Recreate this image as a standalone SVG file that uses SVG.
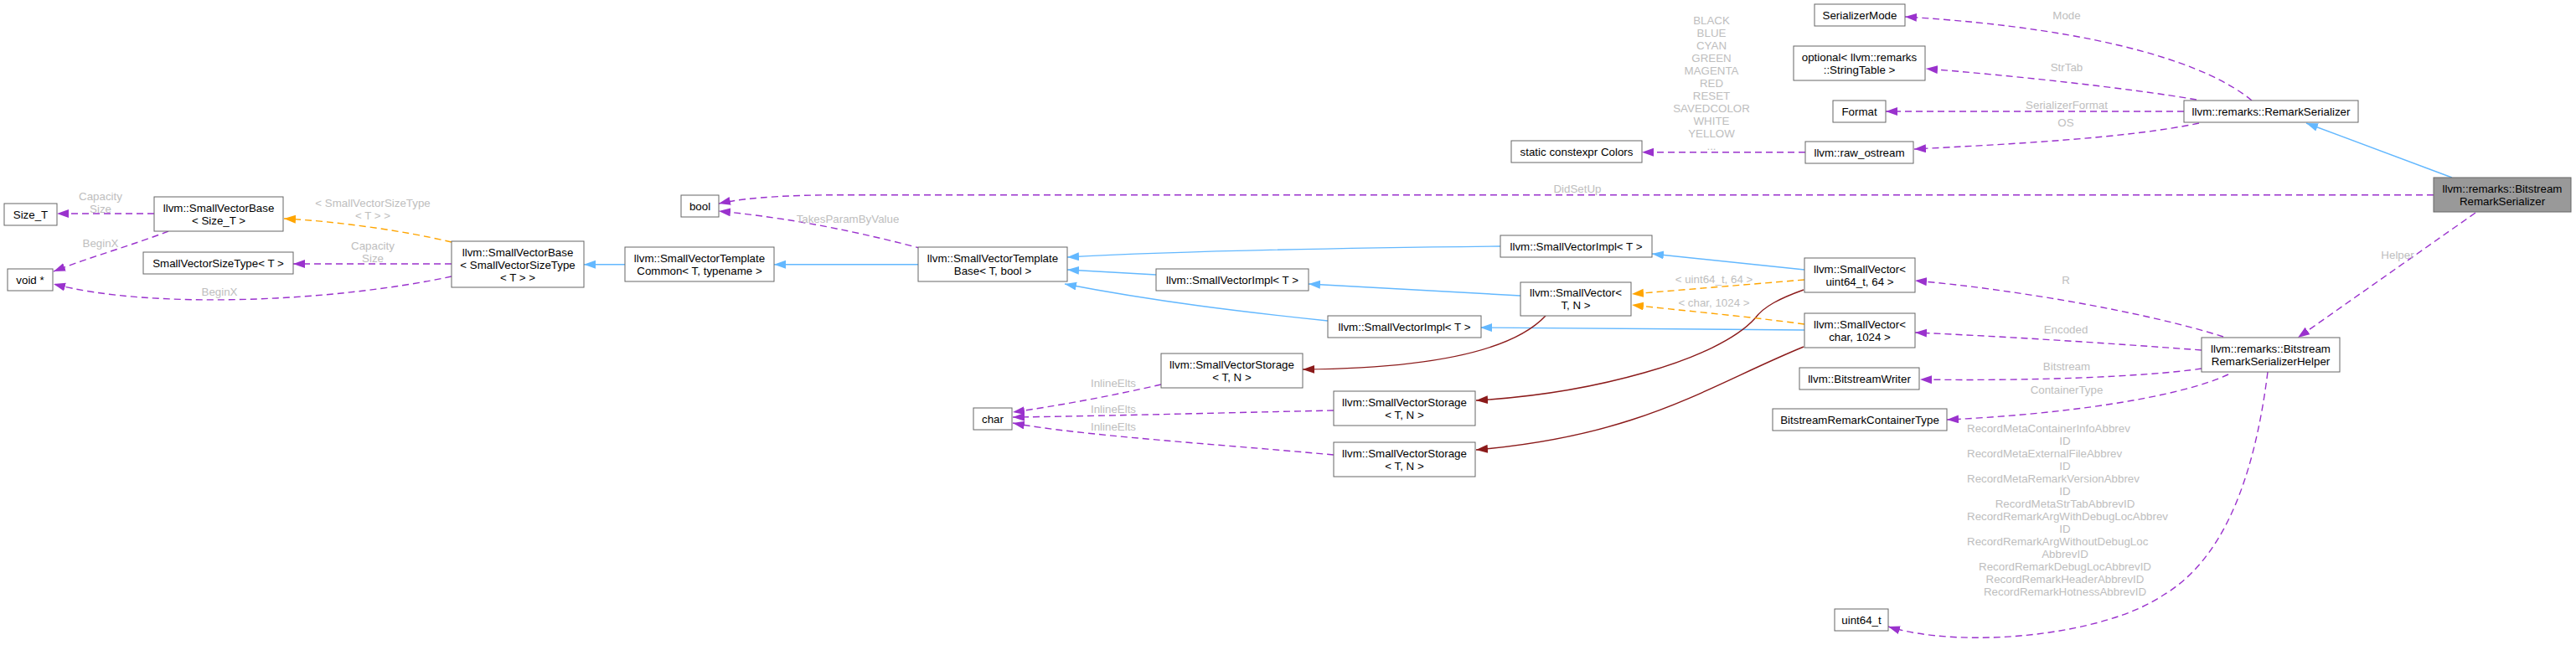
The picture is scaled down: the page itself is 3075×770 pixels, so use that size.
<svg xmlns="http://www.w3.org/2000/svg" width="3075" height="770" viewBox="0 0 3075 770">
<style>
text{font-family:"Liberation Sans",Arial,Helvetica,sans-serif;font-size:13.33px}
.n rect{fill:#fff;stroke:#666;stroke-width:1}
.n.main rect{fill:#999}
.n text{text-anchor:middle;fill:#000}
.lb{fill:#bebebe;text-anchor:middle}
.ls{fill:#bebebe;text-anchor:start}
.p{fill:none;stroke:#9a32cd;stroke-width:1.4;stroke-dasharray:8,5;marker-end:url(#ap)}
.o{fill:none;stroke:#ffa500;stroke-width:1.4;stroke-dasharray:8,5;marker-end:url(#ao)}
.b{fill:none;stroke:#63b8ff;stroke-width:1.4;marker-end:url(#ab)}
.r{fill:none;stroke:#8b1a1a;stroke-width:1.4;marker-end:url(#ar)}
</style>
<defs>
<marker id="ap" markerUnits="userSpaceOnUse" markerWidth="15" markerHeight="11" refX="14" refY="5" orient="auto"><path d="M0,0 L14,5 L0,10 z" fill="#9a32cd"/></marker>
<marker id="ao" markerUnits="userSpaceOnUse" markerWidth="15" markerHeight="11" refX="14" refY="5" orient="auto"><path d="M0,0 L14,5 L0,10 z" fill="#ffa500"/></marker>
<marker id="ab" markerUnits="userSpaceOnUse" markerWidth="15" markerHeight="11" refX="14" refY="5" orient="auto"><path d="M0,0 L14,5 L0,10 z" fill="#63b8ff"/></marker>
<marker id="ar" markerUnits="userSpaceOnUse" markerWidth="15" markerHeight="11" refX="14" refY="5" orient="auto"><path d="M0,0 L14,5 L0,10 z" fill="#8b1a1a"/></marker>
</defs>
<rect width="3075" height="770" fill="#fff"/>
<g id="connectors">
<path class="p" d="M184,255 L68,255"/>
<text class="lb" x="120" y="239">Capacity</text><text class="lb" x="120" y="254">Size</text>
<path class="p" d="M201,276 C160,292 110,306 64,324"/>
<text class="lb" x="120" y="295">BeginX</text>
<path class="p" d="M539,315 L350,315"/>
<text class="lb" x="445" y="298">Capacity</text><text class="lb" x="445" y="313">Size</text>
<path class="p" d="M539,330 C400,360 180,370 64,339"/>
<text class="lb" x="262" y="353">BeginX</text>
<path class="o" d="M539,289 C480,275 400,264 339,261"/>
<text class="lb" x="445" y="247">&lt; SmallVectorSizeType</text><text class="lb" x="445" y="262">&lt; T &gt; &gt;</text>
<path class="b" d="M746,315.7 L697,315.7"/>
<path class="b" d="M1096,315.7 L924,315.7"/>
<path class="p" d="M1101,297 C1000,270 920,258 858,252"/>
<text class="lb" x="1012" y="266">TakesParamByValue</text>
<path class="p" d="M2905,232.7 L1000,232.7 C920,233 880,238 858,243"/>
<text class="lb" x="1883" y="230">DidSetUp</text>
<path class="b" d="M1791,294 C1600,296 1400,300 1274,307"/>
<path class="b" d="M1380,328 L1274,322"/>
<path class="b" d="M1585,383 C1480,372 1380,360 1271,339"/>
<path class="b" d="M1815,353 L1562,339"/>
<path class="b" d="M2154,322 L1972,303"/>
<path class="b" d="M2154,394 L1767,391"/>
<path class="b" d="M2927,212 L2753,147"/>
<path class="r" d="M1845,377 C1800,425 1680,440 1555,441"/>
<path class="r" d="M2153,346 C2125,356 2105,366 2095,380 C2050,430 1900,470 1762,478"/>
<path class="r" d="M2153,414 C2040,460 1960,520 1762,537"/>
<path class="p" d="M1386,459 C1330,472 1260,485 1209,492"/>
<text class="lb" x="1329" y="462">InlineElts</text>
<path class="p" d="M1592,490 C1450,493 1300,497 1209,498"/>
<text class="lb" x="1329" y="493">InlineElts</text>
<path class="p" d="M1592,543 C1450,530 1290,520 1209,505"/>
<text class="lb" x="1329" y="514">InlineElts</text>
<path class="o" d="M2154,334 L1948,351"/>
<text class="lb" x="2046" y="338">&lt; uint64_t, 64 &gt;</text>
<path class="o" d="M2154,387 C2080,377 2000,370 1948,364"/>
<text class="lb" x="2046" y="366">&lt; char, 1024 &gt;</text>
<path class="p" d="M2155,181.7 L1960,181.7"/>
<text class="lb" x="2043" y="29">BLACK</text>
<text class="lb" x="2043" y="44">BLUE</text>
<text class="lb" x="2043" y="59">CYAN</text>
<text class="lb" x="2043" y="74">GREEN</text>
<text class="lb" x="2043" y="89">MAGENTA</text>
<text class="lb" x="2043" y="104">RED</text>
<text class="lb" x="2043" y="119">RESET</text>
<text class="lb" x="2043" y="134">SAVEDCOLOR</text>
<text class="lb" x="2043" y="149">WHITE</text>
<text class="lb" x="2043" y="164">YELLOW</text>
<text class="lb" x="2043" y="179">...</text>
<path class="p" d="M2688,120 C2640,80 2520,35 2274,20"/>
<text class="lb" x="2467" y="23">Mode</text>
<path class="p" d="M2622,119 C2540,105 2400,90 2299,82"/>
<text class="lb" x="2467" y="85">StrTab</text>
<path class="p" d="M2607,133 L2251,133"/>
<text class="lb" x="2467" y="130">SerializerFormat</text>
<path class="p" d="M2625,147 C2540,165 2400,172 2285,178"/>
<text class="lb" x="2466" y="151">OS</text>
<path class="p" d="M2955,254 L2743,403"/>
<text class="lb" x="2862" y="309">Helper</text>
<path class="p" d="M2654,402 C2560,372 2400,345 2286,335"/>
<text class="lb" x="2466" y="339">R</text>
<path class="p" d="M2628,418 C2520,410 2400,402 2286,397"/>
<text class="lb" x="2466" y="398">Encoded</text>
<path class="p" d="M2628,440 C2560,450 2420,455 2292,453"/>
<text class="lb" x="2467" y="442">Bitstream</text>
<path class="p" d="M2660,447 C2600,475 2460,495 2324,501"/>
<text class="lb" x="2467" y="470">ContainerType</text>
<path class="p" d="M2707,444 C2690,580 2650,670 2583,710 C2510,760 2340,775 2254,748"/>
<text class="ls" x="2348" y="516">RecordMetaContainerInfoAbbrev</text>
<text class="lb" x="2465" y="531">ID</text>
<text class="ls" x="2348" y="546">RecordMetaExternalFileAbbrev</text>
<text class="lb" x="2465" y="561">ID</text>
<text class="ls" x="2348" y="576">RecordMetaRemarkVersionAbbrev</text>
<text class="lb" x="2465" y="591">ID</text>
<text class="lb" x="2465" y="606">RecordMetaStrTabAbbrevID</text>
<text class="ls" x="2348" y="621">RecordRemarkArgWithDebugLocAbbrev</text>
<text class="lb" x="2465" y="636">ID</text>
<text class="ls" x="2348" y="651">RecordRemarkArgWithoutDebugLoc</text>
<text class="lb" x="2465" y="666">AbbrevID</text>
<text class="lb" x="2465" y="681">RecordRemarkDebugLocAbbrevID</text>
<text class="lb" x="2465" y="696">RecordRemarkHeaderAbbrevID</text>
<text class="lb" x="2465" y="711">RecordRemarkHotnessAbbrevID</text>
</g>
<g id="n_size_t" class="n"><rect x="5" y="243" width="63" height="26"/><text x="36.5" y="260.5">Size_T</text></g>
<g id="n_svbase_size_t" class="n"><rect x="184" y="235" width="154" height="41"/><text x="261" y="252.5">llvm::SmallVectorBase</text><text x="261" y="267.5">&lt; Size_T &gt;</text></g>
<g id="n_void" class="n"><rect x="9" y="321" width="54" height="26"/><text x="36" y="338.5">void *</text></g>
<g id="n_svsizetype" class="n"><rect x="171" y="301" width="179" height="26"/><text x="260.5" y="318.5">SmallVectorSizeType&lt; T &gt;</text></g>
<g id="n_svbase_svst" class="n"><rect x="539" y="288" width="158" height="55"/><text x="618" y="305.5">llvm::SmallVectorBase</text><text x="618" y="320.5">&lt; SmallVectorSizeType</text><text x="618" y="335.5">&lt; T &gt; &gt;</text></g>
<g id="n_svtcommon" class="n"><rect x="746" y="295" width="178" height="41"/><text x="835" y="312.5">llvm::SmallVectorTemplate</text><text x="835" y="327.5">Common&lt; T, typename &gt;</text></g>
<g id="n_bool" class="n"><rect x="813" y="233" width="45" height="26"/><text x="835.5" y="250.5">bool</text></g>
<g id="n_svtbase" class="n"><rect x="1096" y="295" width="178" height="41"/><text x="1185" y="312.5">llvm::SmallVectorTemplate</text><text x="1185" y="327.5">Base&lt; T, bool &gt;</text></g>
<g id="n_char" class="n"><rect x="1162" y="487" width="46" height="26"/><text x="1185" y="504.5">char</text></g>
<g id="n_svimpl1" class="n"><rect x="1791" y="281" width="181" height="26"/><text x="1881.5" y="298.5">llvm::SmallVectorImpl&lt; T &gt;</text></g>
<g id="n_svimpl2" class="n"><rect x="1380" y="321" width="182" height="26"/><text x="1471" y="338.5">llvm::SmallVectorImpl&lt; T &gt;</text></g>
<g id="n_svimpl3" class="n"><rect x="1585" y="377" width="183" height="26"/><text x="1676.5" y="394.5">llvm::SmallVectorImpl&lt; T &gt;</text></g>
<g id="n_sv_tn" class="n"><rect x="1815" y="337" width="132" height="40"/><text x="1881" y="354">llvm::SmallVector&lt;</text><text x="1881" y="369">T, N &gt;</text></g>
<g id="n_svstorage1" class="n"><rect x="1386" y="422" width="169" height="41"/><text x="1470.5" y="439.5">llvm::SmallVectorStorage</text><text x="1470.5" y="454.5">&lt; T, N &gt;</text></g>
<g id="n_svstorage2" class="n"><rect x="1592" y="467" width="169" height="41"/><text x="1676.5" y="484.5">llvm::SmallVectorStorage</text><text x="1676.5" y="499.5">&lt; T, N &gt;</text></g>
<g id="n_svstorage3" class="n"><rect x="1592" y="528" width="169" height="41"/><text x="1676.5" y="545.5">llvm::SmallVectorStorage</text><text x="1676.5" y="560.5">&lt; T, N &gt;</text></g>
<g id="n_sv_uint64" class="n"><rect x="2154" y="308" width="132" height="41"/><text x="2220" y="325.5">llvm::SmallVector&lt;</text><text x="2220" y="340.5">uint64_t, 64 &gt;</text></g>
<g id="n_sv_char" class="n"><rect x="2154" y="374" width="132" height="41"/><text x="2220" y="391.5">llvm::SmallVector&lt;</text><text x="2220" y="406.5">char, 1024 &gt;</text></g>
<g id="n_bswriter" class="n"><rect x="2148" y="439" width="143" height="26"/><text x="2219.5" y="456.5">llvm::BitstreamWriter</text></g>
<g id="n_containertype" class="n"><rect x="2116" y="488" width="208" height="26"/><text x="2220" y="505.5">BitstreamRemarkContainerType</text></g>
<g id="n_uint64" class="n"><rect x="2190" y="727" width="64" height="26"/><text x="2222" y="744.5">uint64_t</text></g>
<g id="n_helper" class="n"><rect x="2628" y="403" width="165" height="41"/><text x="2710.5" y="420.5">llvm::remarks::Bitstream</text><text x="2710.5" y="435.5">RemarkSerializerHelper</text></g>
<g id="n_sermode" class="n"><rect x="2166" y="5" width="108" height="26"/><text x="2220" y="22.5">SerializerMode</text></g>
<g id="n_optional" class="n"><rect x="2141" y="55" width="157" height="41"/><text x="2219.5" y="72.5">optional&lt; llvm::remarks</text><text x="2219.5" y="87.5">::StringTable &gt;</text></g>
<g id="n_format" class="n"><rect x="2188" y="120" width="63" height="26"/><text x="2219.5" y="137.5">Format</text></g>
<g id="n_rawostream" class="n"><rect x="2155" y="169" width="129" height="26"/><text x="2219.5" y="186.5">llvm::raw_ostream</text></g>
<g id="n_colors" class="n"><rect x="1804" y="168" width="156" height="26"/><text x="1882" y="185.5">static constexpr Colors</text></g>
<g id="n_remarkser" class="n"><rect x="2607" y="120" width="208" height="26"/><text x="2711" y="137.5">llvm::remarks::RemarkSerializer</text></g>
<g id="n_bsremarkser" class="n main"><rect x="2905" y="212" width="164" height="41"/><text x="2987" y="229.5">llvm::remarks::Bitstream</text><text x="2987" y="244.5">RemarkSerializer</text></g>
</svg>
